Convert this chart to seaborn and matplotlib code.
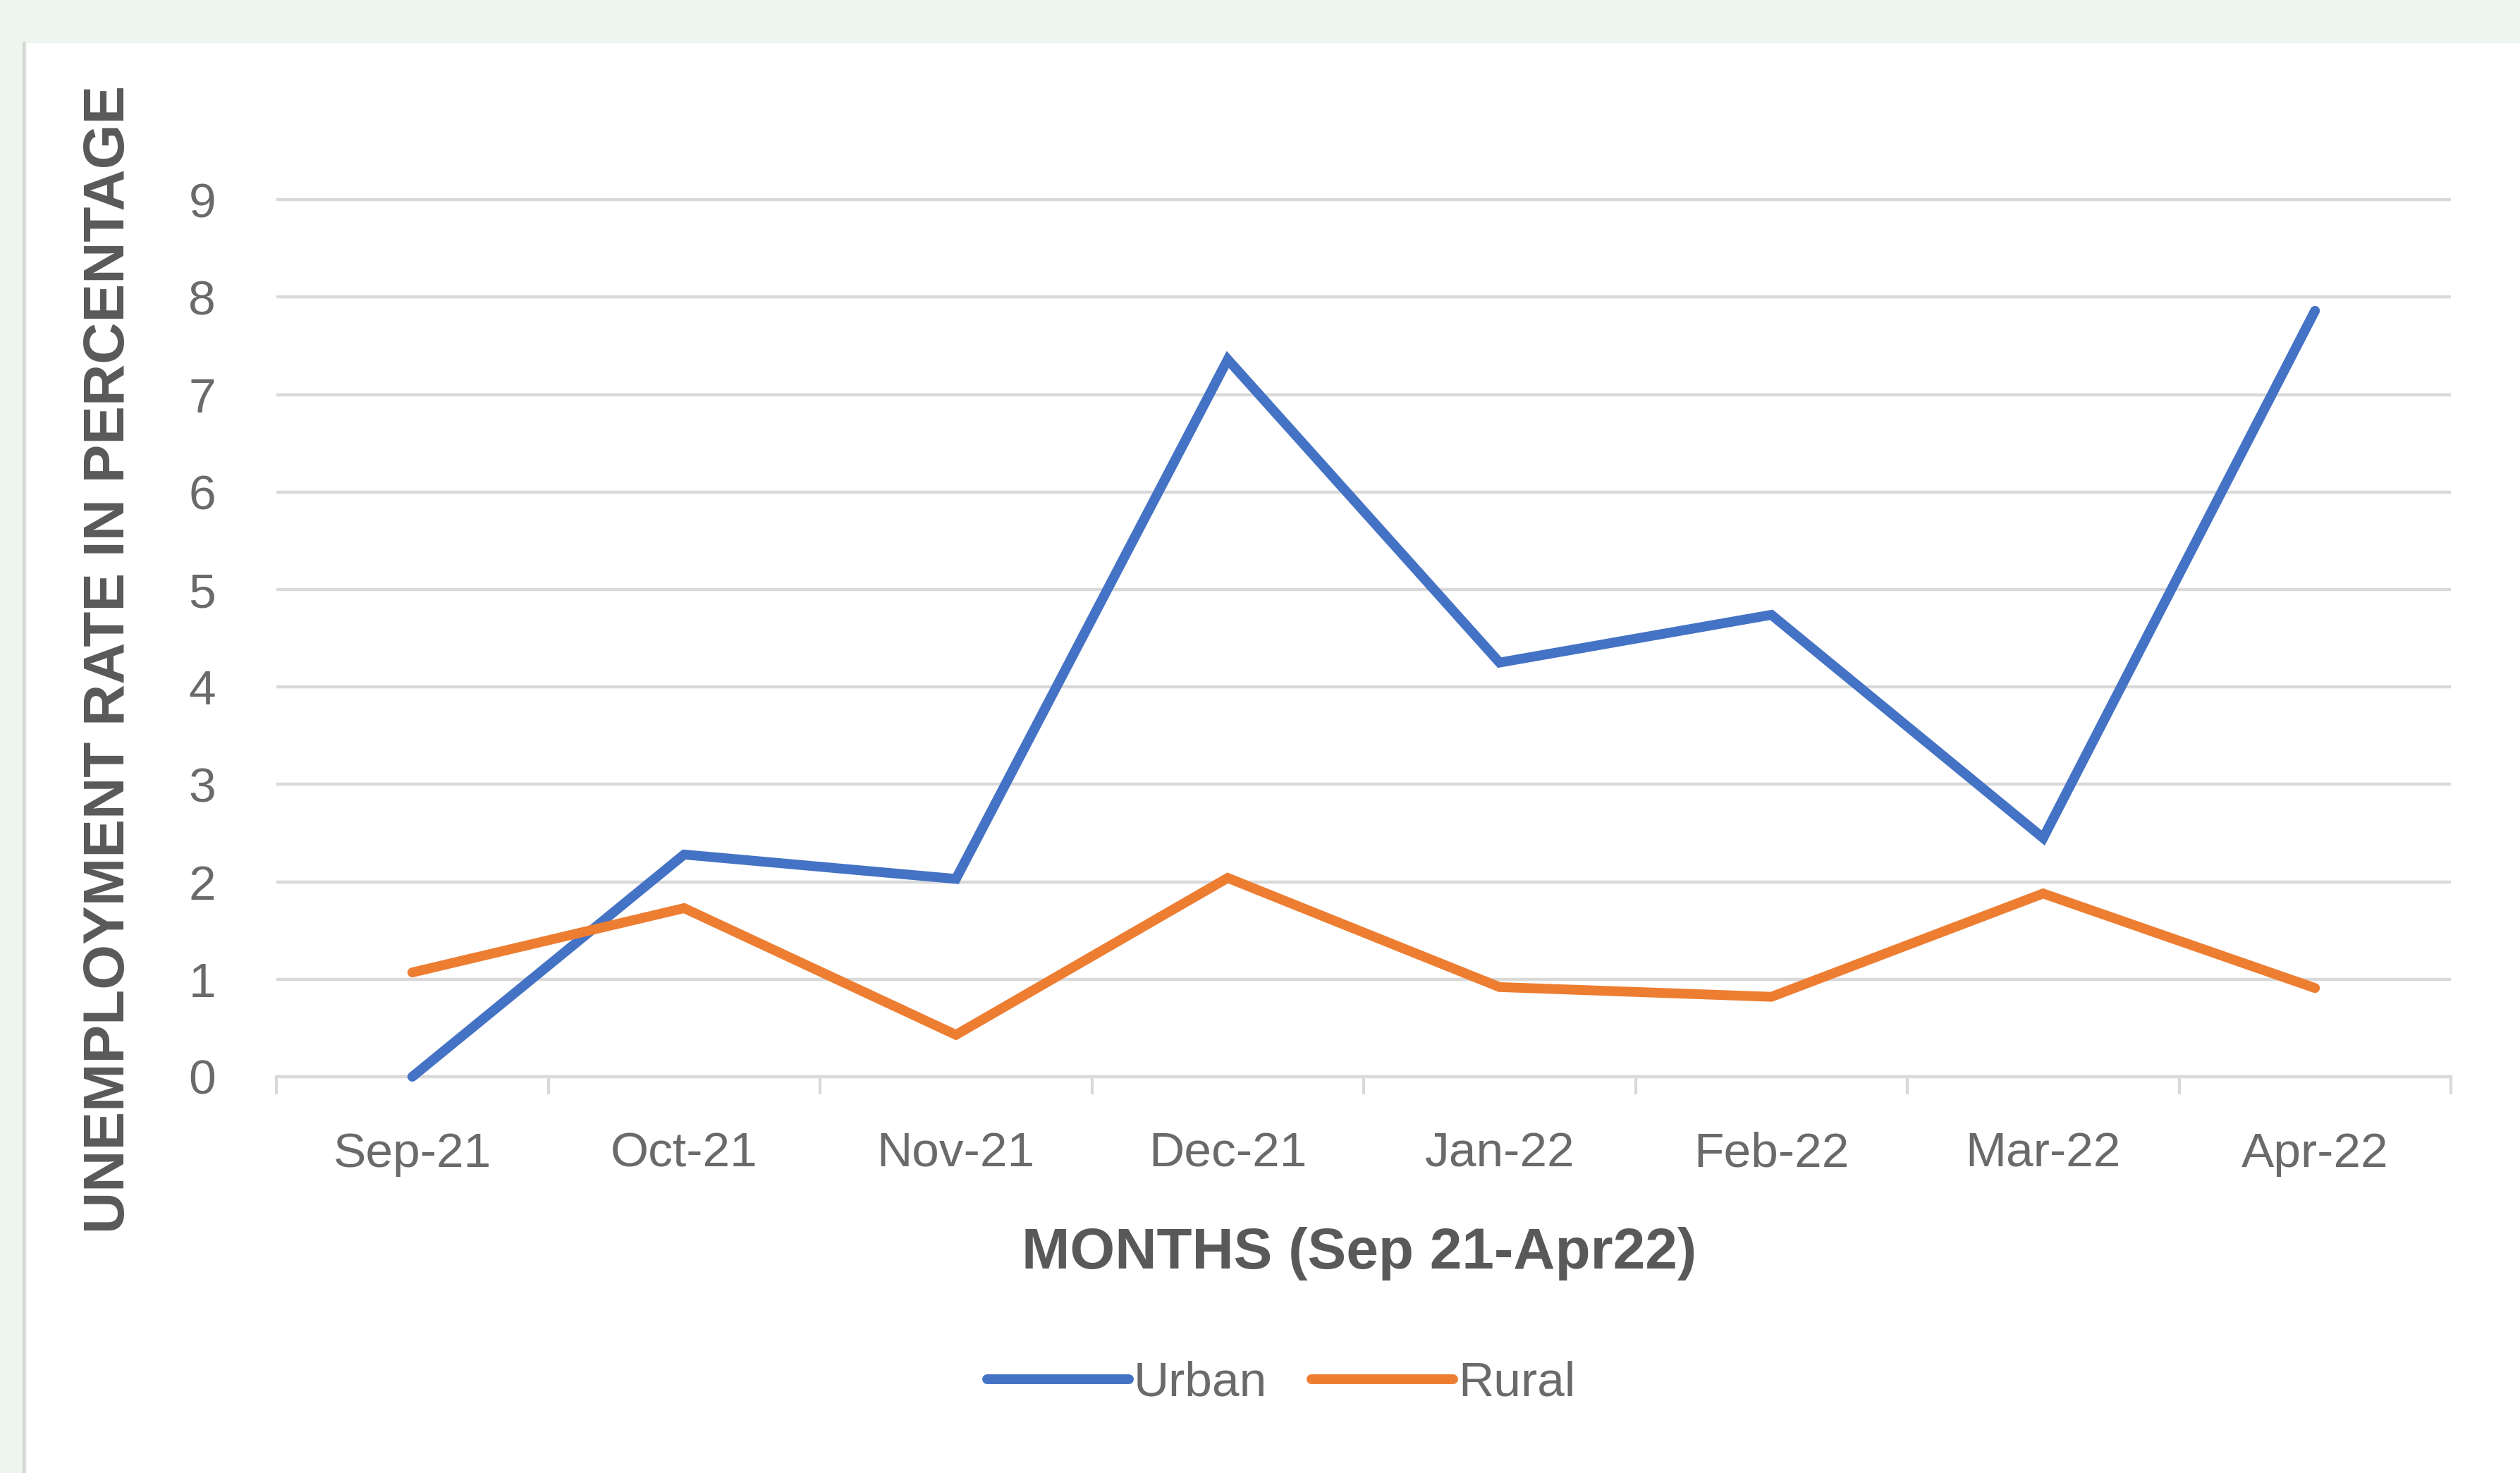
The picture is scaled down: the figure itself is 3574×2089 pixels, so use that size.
import matplotlib
matplotlib.use("Agg")
import matplotlib.pyplot as plt
import seaborn as sns
import pandas as pd
from matplotlib.patches import Rectangle
from matplotlib.lines import Line2D

months = ["Sep-21", "Oct-21", "Nov-21", "Dec-21", "Jan-22", "Feb-22", "Mar-22", "Apr-22"]
urban = [0.0, 2.28, 2.03, 7.36, 4.25, 4.74, 2.45, 7.86]
rural = [1.07, 1.73, 0.43, 2.04, 0.92, 0.82, 1.88, 0.91]
series_names = ["Urban", "Rural"]
y_ticks = list(range(0, 10))

df = pd.DataFrame({
    "month": months * 2,
    "rate": urban + rural,
    "area": [series_names[0]] * len(months) + [series_names[1]] * len(months),
})
df["pos"] = [months.index(m) for m in df["month"]]

sns.set_theme(style="white")
plt.rcParams["font.family"] = ["Liberation Sans Narrow", "Liberation Sans", "DejaVu Sans"]

W, H = 3574, 2089
fig = plt.figure(figsize=(W / 100, H / 100), dpi=100)
fig.patch.set_facecolor("#eef4ee")
fig.patches.append(Rectangle((38 / W, 0), 1 - 38 / W, 1 - 61 / H, transform=fig.transFigure,
                             facecolor="white", edgecolor="none", zorder=-5))
fig.add_artist(Line2D([34 / W, 34 / W], [0, 1 - 61 / H], transform=fig.transFigure,
                      color="#d3d6d3", lw=3, zorder=-4))

left, right = 392 / W, 3476 / W
y0_px, unit_px = 1527, 138.2
ytop = 9.3
bottom = 1 - y0_px / H
top = 1 - (y0_px - ytop * unit_px) / H
ax = fig.add_axes([left, bottom, right - left, top - bottom])
ax.set_facecolor("none")
ax.set_zorder(2)

palette = {"Urban": "#4472C4", "Rural": "#ED7D31"}
sns.lineplot(data=df, x="pos", y="rate", hue="area", palette=palette, linewidth=10,
             ax=ax, legend=False, sort=False, estimator=None)
for ln in ax.lines:
    ln.set_clip_on(False)
    ln.set_solid_joinstyle("miter")
    ln.set_zorder(3)

ax.set_xlim(-0.5, len(months) - 0.5)
ax.set_ylim(0, ytop)
ax.set_yticks(y_ticks)
ax.set_yticklabels([str(t) for t in y_ticks])
ax.yaxis.grid(True, color="#d9d9d9", linewidth=3.2)
ax.set_axisbelow(True)
ax.set_xticks(range(len(months)))
ax.set_xticklabels(months)
ax.set_xticks([i - 0.5 for i in range(len(months) + 1)], minor=True)
ax.tick_params(axis="x", which="major", bottom=False, length=0, pad=56, labelsize=50,
               labelcolor="#6a6a6a")
ax.tick_params(axis="x", which="minor", bottom=True, length=18, width=3, color="#d9d9d9",
               direction="out")
ax.tick_params(axis="y", left=False, length=0, pad=62, labelsize=50, labelcolor="#6a6a6a")
for s in ["top", "right", "left"]:
    ax.spines[s].set_visible(False)
ax.spines["bottom"].set_color("#d9d9d9")
ax.spines["bottom"].set_linewidth(3.2)

ax.set_xlabel("")
ax.set_ylabel("")
fig.text(1928 / W, 1 - 1778 / H, "MONTHS (Sep 21-Apr22)", ha="center", va="center",
         fontsize=59, fontweight="bold", color="#595959")
fig.text(155 / W, 1 - 935 / H, "UNEMPLOYMENT RATE IN PERCENTAGE", ha="center", va="center",
         rotation=90, fontsize=59, fontweight="bold", color="#595959")

handles = [Line2D([], [], color=palette[n], lw=10) for n in series_names]
fig.legend(handles, series_names, loc="center", bbox_to_anchor=(1817 / W, 1 - 1962 / H),
           ncol=2, frameon=False, fontsize=50, labelcolor="#6a6a6a",
           handlelength=2.9, handletextpad=0.1, columnspacing=0.9)

fig.savefig("out.png", dpi=100, facecolor=fig.get_facecolor())
